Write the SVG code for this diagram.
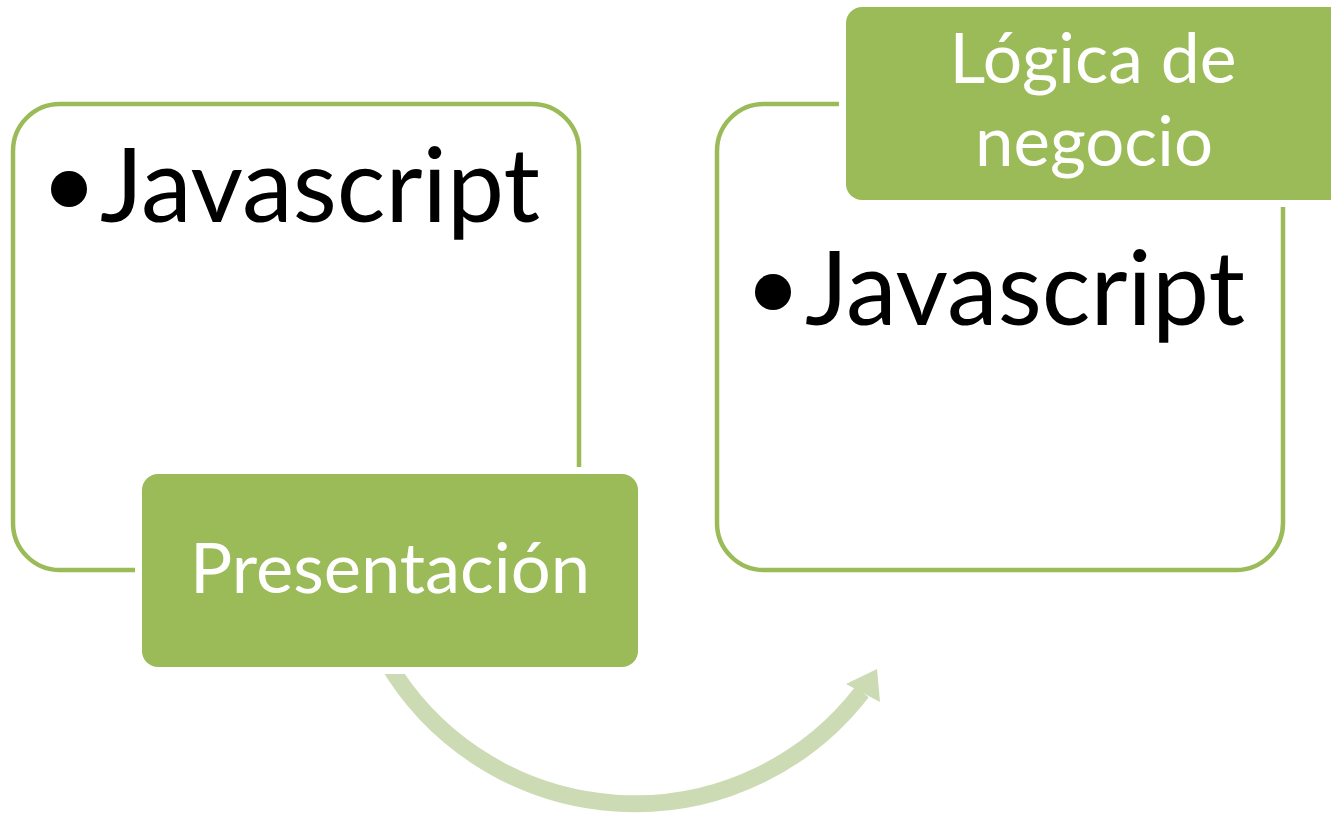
<svg xmlns="http://www.w3.org/2000/svg" width="1331" height="817" viewBox="0 0 1331 817">
<style>
.outline{fill:none;stroke:#9BBB59;stroke-width:4.5}
.label{fill:#9BBB59;stroke:#FFFFFF;stroke-width:14;paint-order:stroke}
.lt{font-family:Lato,"Open Sans",sans-serif;fill:#FFFFFF;font-size:70px;text-anchor:middle}
.bt{font-family:Lato,"Open Sans",sans-serif;fill:#000000;font-size:102px}
.conn{fill:none;stroke:#CDDBB5;stroke-width:17}
</style>
<rect width="1331" height="817" fill="#FFFFFF"/>
<g id="box-left">
<rect class="outline" x="13" y="104" width="566" height="466" rx="47" ry="47"/>
<circle cx="69" cy="189" r="18" fill="#000"/>
<text class="bt" x="100" y="222" textLength="440" lengthAdjust="spacingAndGlyphs">Javascript</text>
</g>
<g id="box-right">
<rect class="outline" x="717" y="104" width="566" height="466" rx="47" ry="47"/>
<circle cx="773" cy="292" r="18" fill="#000"/>
<text class="bt" x="805" y="325" textLength="440" lengthAdjust="spacingAndGlyphs">Javascript</text>
</g>
<g id="connectors">
<path class="conn" d="M 386 660 A 287 287 0 0 0 862 692"/>
<polygon points="846,684 877,669 880,702" fill="#CDDBB5"/>
</g>
<g id="node-presentacion">
<rect class="label" x="142" y="474" width="496" height="193" rx="16" ry="16"/>
<text class="lt" x="390" y="593" textLength="400" lengthAdjust="spacingAndGlyphs">Presentación</text>
</g>
<g id="node-logica">
<rect class="label" x="846" y="7" width="500" height="193" rx="16" ry="16"/>
<text class="lt" x="1093" y="83" textLength="287" lengthAdjust="spacingAndGlyphs">Lógica de</text>
<text class="lt" x="1094" y="166" textLength="238" lengthAdjust="spacingAndGlyphs">negocio</text>
</g>
</svg>
